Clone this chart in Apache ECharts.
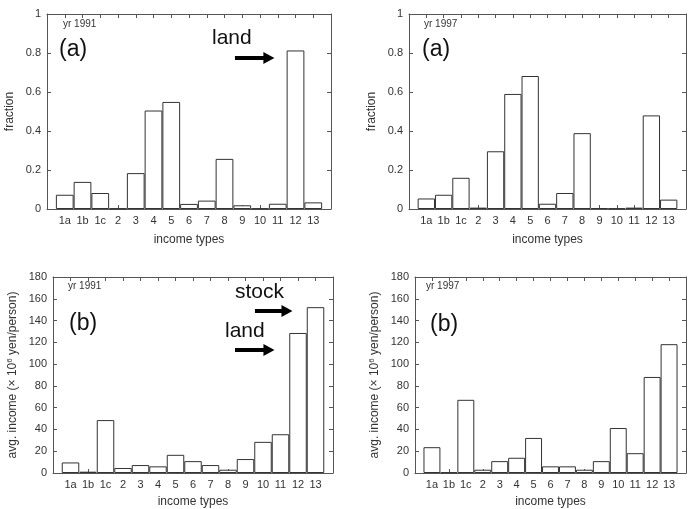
<!DOCTYPE html>
<html>
<head>
<meta charset="utf-8">
<script src="https://cdn.jsdelivr.net/npm/echarts@6/dist/echarts.min.js"></script>
<style>
  html, body { margin: 0; padding: 0; background: #fff; }
  #chart { width: 689px; height: 509px; }
</style>
</head>
<body>
<div id="chart"></div>
<script>
const incomeTypes = ['1a', '1b', '1c', '2', '3', '4', '5', '6', '7', '8', '9', '10', '11', '12', '13'];

// fraction of taxpayers with each income type
const fraction1991 = [0.073, 0.139, 0.082, 0.003, 0.184, 0.505, 0.549, 0.026, 0.043, 0.257, 0.019, 0.003, 0.027, 0.813, 0.034];
const fraction1997 = [0.054, 0.073, 0.16, 0.007, 0.296, 0.59, 0.682, 0.027, 0.082, 0.389, 0.005, 0.003, 0.007, 0.48, 0.048];

// average income, 10^6 yen per person
const income1991 = [9.7, 1.2, 48.6, 4.6, 7.3, 6.1, 16.7, 10.9, 7.3, 3.0, 12.8, 28.6, 35.6, 128.6, 152.3];
const income1997 = [23.7, 0.6, 67.2, 3.0, 10.9, 14.0, 32.2, 6.1, 6.1, 3.0, 10.9, 41.3, 18.2, 88.2, 118.3];

const fractionTicks = { min: 0, max: 1, interval: 0.2 };
const incomeTicks = { min: 0, max: 180, interval: 20 };

// arrows: [from x, to x, y] in data units (x = index of income type)
const landArrowA = [9.59, 11.5, 0.774];
const stockArrowB = [10.54, 12.37, 148.8];
const landArrowB = [9.4, 11.34, 113];

const chart = echarts.init(document.getElementById('chart'));

const frameColor = '#555';
const textColor = '#333';
const font = 'Liberation Sans, Arial, sans-serif';

const panels = [
  { left: 47, top: 14, width: 284, height: 195, ticks: fractionTicks, values: fraction1991, yName: 'fraction', yGap: 31, xGap: 25, arrows: [landArrowA] },
  { left: 409, top: 14, width: 286, height: 195, ticks: fractionTicks, values: fraction1997, yName: 'fraction', yGap: 31, xGap: 25, arrows: [] },
  { left: 53, top: 277, width: 280, height: 196, ticks: incomeTicks, values: income1991, yName: 'avg. income (\u00d7 10{sup|6} yen/person)', yGap: 33, xGap: 23, arrows: [stockArrowB, landArrowB] },
  { left: 415, top: 277, width: 280, height: 196, ticks: incomeTicks, values: income1997, yName: 'avg. income (\u00d7 10{sup|6} yen/person)', yGap: 33, xGap: 23, arrows: [] }
];

const grid = [];
const xAxis = [];
const yAxis = [];
const series = [];

panels.forEach((p, i) => {
  grid.push({ left: p.left, top: p.top, width: p.width, height: p.height });

  const lineStyle = { color: frameColor, width: 1 };
  const tick = { show: true, inside: true, length: 4, lineStyle: lineStyle };

  xAxis.push({
    type: 'value', gridIndex: i, position: 'bottom',
    min: -1, max: 15, interval: 1,
    axisLine: { show: true, onZero: false, lineStyle: lineStyle },
    axisTick: tick,
    splitLine: { show: false },
    axisLabel: {
      color: textColor, fontFamily: font, fontSize: 11, margin: 6,
      formatter: v => incomeTypes[v] || ''
    },
    name: 'income types', nameLocation: 'middle', nameGap: p.xGap,
    nameTextStyle: { color: textColor, fontFamily: font, fontSize: 12 }
  });
  yAxis.push({
    type: 'value', gridIndex: i, position: 'left',
    min: p.ticks.min, max: p.ticks.max, interval: p.ticks.interval,
    axisLine: { show: true, onZero: false, lineStyle: lineStyle },
    axisTick: tick,
    splitLine: { show: false },
    axisLabel: { color: textColor, fontFamily: font, fontSize: 11, margin: 6 },
    name: p.yName, nameLocation: 'middle', nameGap: p.yGap,
    nameTextStyle: {
      color: textColor, fontFamily: font, fontSize: 12,
      rich: { sup: { fontSize: 8, verticalAlign: 'top', color: textColor, fontFamily: font, padding: [0, 0, 6, 0] } }
    }
  });

  const markLineData = p.arrows.map(a => [
    { coord: [a[0], a[2]], symbol: 'none' },
    { coord: [a[1], a[2]], symbol: 'triangle', symbolSize: [12, 11], symbolRotate: -90 }
  ]);

  series.push({
    type: 'bar',
    xAxisIndex: i, yAxisIndex: i,
    data: p.values.map((v, k) => [k, v]),
    barWidth: '100%',
    itemStyle: { color: '#fff', borderColor: '#333', borderWidth: 1 },
    silent: true,
    animation: false,
    markLine: markLineData.length ? {
      silent: true,
      animation: false,
      label: { show: false },
      lineStyle: { color: '#000', width: 4, type: 'solid' },
      itemStyle: { color: '#000' },
      data: markLineData
    } : undefined
  });
});

// mirrored top and right axes to close the frame
panels.forEach((p, i) => {
  const lineStyle = { color: frameColor, width: 1 };
  const tick = { show: true, inside: true, length: 4, lineStyle: lineStyle };
  xAxis.push({
    type: 'value', gridIndex: i, position: 'top',
    min: -1, max: 15, interval: 1,
    axisLine: { show: true, onZero: false, lineStyle: lineStyle },
    axisTick: tick, axisLabel: { show: false }, splitLine: { show: false }
  });
  yAxis.push({
    type: 'value', gridIndex: i, position: 'right',
    min: p.ticks.min, max: p.ticks.max, interval: p.ticks.interval,
    axisLine: { show: true, onZero: false, lineStyle: lineStyle },
    axisTick: tick, axisLabel: { show: false }, splitLine: { show: false }
  });
});

function note(text, x, y, size, color) {
  return {
    type: 'text', left: x, top: y, silent: true,
    style: { text: text, fontSize: size, fontFamily: font, fill: color || '#111' }
  };
}

chart.setOption({
  animation: false,
  grid: grid,
  xAxis: xAxis,
  yAxis: yAxis,
  series: series,
  graphic: [
    note('yr 1991', 63, 19, 10, textColor),
    note('(a)', 59, 38, 23),
    note('land', 212, 28, 21),
    note('yr 1997', 424, 19, 10, textColor),
    note('(a)', 422, 38, 23),
    note('yr 1991', 68, 281, 10, textColor),
    note('(b)', 69, 312, 23),
    note('stock', 235, 282, 21),
    note('land', 225, 321, 21),
    note('yr 1997', 426, 281, 10, textColor),
    note('(b)', 430, 313, 23)
  ]
});
</script>
</body>
</html>
